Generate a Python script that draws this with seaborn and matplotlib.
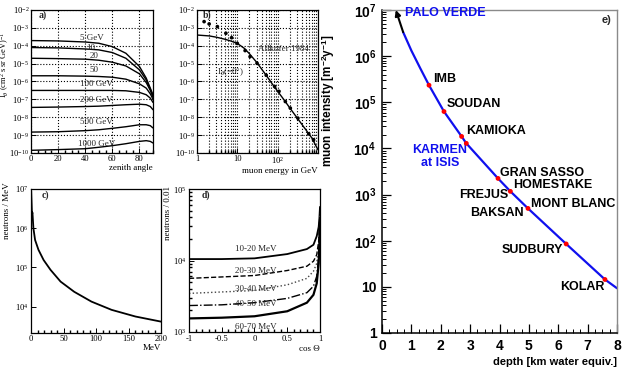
import numpy as np
import matplotlib
matplotlib.use("Agg")
import matplotlib.pyplot as plt
import seaborn as sns
from matplotlib.ticker import FixedLocator, NullFormatter, LogLocator, MultipleLocator

# ---------------- data ----------------
# panel a: zenith angle distributions (log10 of intensity)
zen_angle = [0, 20, 40, 50, 60, 70, 80, 85, 88, 90]
zen_energies = ["5", "10", "20", "50", "100", "200", "500", "1000"]
zen_log_5 = [-3.71, -3.73, -3.79, -3.86, -4.05, -4.42, -5.16, -5.81, -6.37, -6.74]
zen_log_10 = [-4.10, -4.12, -4.18, -4.23, -4.38, -4.70, -5.35, -5.91, -6.43, -6.84]
zen_log_20 = [-4.70, -4.72, -4.75, -4.81, -4.92, -5.13, -5.57, -6.06, -6.50, -6.87]
zen_log_50 = [-5.68, -5.68, -5.70, -5.72, -5.76, -5.87, -6.13, -6.37, -6.69, -6.99]
zen_log_100 = [-6.50, -6.50, -6.50, -6.50, -6.50, -6.52, -6.61, -6.74, -6.93, -7.17]
zen_log_200 = [-7.45, -7.43, -7.40, -7.38, -7.34, -7.30, -7.27, -7.30, -7.40, -7.58]
zen_log_500 = [-8.83, -8.81, -8.75, -8.70, -8.62, -8.53, -8.42, -8.42, -8.47, -8.60]
zen_log_1000 = [-9.85, -9.81, -9.76, -9.68, -9.59, -9.48, -9.35, -9.31, -9.35, -9.44]
zen_labels = ["5 GeV", "10", "20", "50", "100 GeV", "200 GeV", "500 GeV", "1000 GeV"]
zen_label_x = [36, 40.5, 43, 43, 36, 36, 36, 34.5]
zen_label_log = [-3.55, -4.12, -4.55, -5.33, -6.13, -7.02, -8.27, -9.48]

# panel b: vertical muon spectrum
spec_E = [1, 2, 3, 5, 7, 10, 15, 20, 30, 50, 70, 100, 150, 200, 300, 500, 700, 1000]
spec_log = [-3.40, -3.45, -3.52, -3.64, -3.74, -3.87, -4.15, -4.45, -4.92, -5.60,
            -6.07, -6.55, -7.08, -7.48, -8.02, -8.70, -9.15, -9.82]
allk_E = [1.5, 2.0, 3.2, 5.2, 7.2, 10, 15.6, 20.7, 30.8, 52, 84, 108, 155, 206, 317, 590, 776]
allk_log = [-2.65, -2.78, -2.93, -3.30, -3.55, -3.87, -4.27, -4.61, -4.98, -5.65,
            -6.28, -6.55, -7.12, -7.49, -8.05, -8.93, -9.26]

# panel c: neutron energy spectrum
neu_E = [0.3, 1.0, 1.5, 2.2, 2.6, 3.7, 6.3, 11.5, 19.4, 30, 45.5, 66.5, 93, 124, 160.7, 200]
neu_log = [6.95, 6.60, 6.35, 6.40, 6.30, 6.00, 5.70, 5.45, 5.19, 4.94, 4.64, 4.38, 4.13,
           3.92, 3.75, 3.62]

# panel d: angular distributions of neutrons
cos_theta = [-1, -0.5, 0, 0.5, 0.8, 0.9, 0.95, 0.98, 0.99, 1.0]
ang_labels = ["10-20 MeV", "20-30 MeV", "30-40 MeV", "40-50 MeV", "60-70 MeV"]
ang_log_10_20 = [4.02, 4.02, 4.03, 4.09, 4.16, 4.22, 4.34, 4.47, 4.58, 4.75]
ang_log_20_30 = [3.75, 3.77, 3.79, 3.86, 3.92, 3.99, 4.08, 4.27, 4.45, 4.71]
ang_log_30_40 = [3.54, 3.56, 3.58, 3.66, 3.75, 3.85, 3.96, 4.20, 4.40, 4.66]
ang_log_40_50 = [3.37, 3.38, 3.41, 3.47, 3.55, 3.64, 3.78, 4.06, 4.30, 4.61]
ang_log_60_70 = [3.19, 3.20, 3.22, 3.29, 3.41, 3.52, 3.68, 3.96, 4.22, 4.57]
ang_label_log = [4.16, 3.85, 3.60, 3.39, 3.07]

# panel e: depth-intensity relation
depth_curve = [0.72, 1.0, 1.3, 1.60, 2.11, 2.71, 2.87, 3.95, 4.37, 4.97, 6.27, 7.59, 8.0]
depth_curve_log = [6.52, 6.12, 5.74, 5.37, 4.80, 4.26, 4.11, 3.35, 3.07, 2.70, 1.93, 1.16, 0.97]
lab_depth = [1.60, 2.11, 2.71, 2.87, 3.95, 4.37, 4.97, 6.27, 7.59]
lab_log = [5.37, 4.80, 4.26, 4.11, 3.35, 3.07, 2.70, 1.93, 1.16]
lab_names = ["IMB", "SOUDAN", "KAMIOKA", "GRAN SASSO", "HOMESTAKE", "FREJUS",
             "MONT BLANC", "BAKSAN", "SUDBURY", "KOLAR"]
lab_x = [1.73, 2.2, 2.88, 4.03, 4.47, 4.30, 5.08, 4.81, 6.17, 7.56]
lab_y = [5.50, 4.96, 4.37, 3.46, 3.20, 3.00, 2.80, 2.61, 1.80, 1.00]
lab_ha = ["left", "left", "left", "left", "left", "right", "left", "right", "right", "right"]

# ---------------- style ----------------
sns.set_theme(style="ticks")
plt.rcParams.update({
    "font.family": ["Liberation Serif", "DejaVu Serif"],
    "mathtext.fontset": "custom",
    "mathtext.rm": "Liberation Serif",
    "mathtext.it": "Liberation Serif:italic",
    "mathtext.bf": "Liberation Sans:bold",
    "axes.linewidth": 0.9,
    "xtick.direction": "in",
    "ytick.direction": "in",
    "xtick.major.size": 3.5,
    "ytick.major.size": 3.5,
    "xtick.minor.size": 2,
    "ytick.minor.size": 2,
    "xtick.major.width": 0.7,
    "ytick.major.width": 0.7,
    "xtick.color": "black",
    "ytick.color": "black",
    "axes.edgecolor": "black",
    "axes.facecolor": "white",
})

W, H = 623, 369
fig = plt.figure(figsize=(W / 100, H / 100), dpi=100)


def axrect(l, t, r, b):
    return fig.add_axes([l / W, 1 - b / H, (r - l) / W, (b - t) / H])


SER = 6.5
lfont = dict(family="Liberation Serif", size=SER, color="black")
tfont = dict(family="Liberation Serif", size=6.2, color="black")


def decade_labels(ax, exps):
    ax.yaxis.set_major_locator(FixedLocator([10.0 ** e for e in exps]))
    ax.set_yticklabels([r"$10^{%d}$" % e for e in exps], fontdict=tfont)
    ax.yaxis.set_minor_formatter(NullFormatter())


# ---------------- panel a ----------------
axa = axrect(31, 10, 153, 153)
axa.set_yscale("log")
zen_all = [zen_log_5, zen_log_10, zen_log_20, zen_log_50, zen_log_100, zen_log_200,
           zen_log_500, zen_log_1000]
for vals in zen_all:
    sns.lineplot(x=zen_angle, y=10.0 ** np.array(vals), ax=axa, color="black",
                 lw=1.0, estimator=None, sort=False)
axa.set_xlim(0, 90)
axa.set_ylim(1e-10, 1e-2)
axa.set_xticks([0, 20, 40, 60, 80])
axa.set_xticklabels(["0", "20", "40", "60", "80"], fontdict=tfont)
axa.xaxis.set_minor_locator(MultipleLocator(5))
decade_labels(axa, list(range(-2, -11, -1)))
axa.yaxis.set_minor_locator(FixedLocator([]))
axa.grid(True, which="major", ls=":", color="black", lw=0.8)
for lab, lx, ly in zip(zen_labels, zen_label_x, zen_label_log):
    axa.text(lx, 10.0 ** ly, lab, fontsize=SER, ha="left", va="center",
             family="Liberation Serif")
axa.text(0.06, 0.965, "a)", transform=axa.transAxes, fontsize=7, va="center",
         family="Liberation Serif", weight="bold")
axa.set_xlabel("zenith angle", fontdict=lfont, loc="right", labelpad=1)
axa.set_ylabel(r"I$_\theta$ (cm$^2$ s sr GeV)$^{-1}$",
               fontdict=dict(family="Liberation Serif", size=6.0, color="black"))
axa.yaxis.set_label_coords(-0.16, 0.62)
axa.tick_params(pad=1.2)

# ---------------- panel b ----------------
axb = axrect(197, 10, 318, 153)
axb.set_xscale("log")
axb.set_yscale("log")
sns.lineplot(x=spec_E, y=10.0 ** np.array(spec_log), ax=axb, color="black", lw=1.0,
             estimator=None, sort=False)
sns.scatterplot(x=allk_E, y=10.0 ** np.array(allk_log), ax=axb, color="black", s=7,
                edgecolor="none", zorder=5)
axb.set_xlim(1, 1000)
axb.set_ylim(1e-10, 1e-2)
axb.xaxis.set_major_locator(FixedLocator([1, 10, 100, 1000]))
axb.set_xticklabels(["1", "10", r"$10^{2}$", ""], fontdict=tfont)
axb.xaxis.set_minor_locator(LogLocator(base=10, subs=np.arange(2, 10), numticks=20))
axb.xaxis.set_minor_formatter(NullFormatter())
decade_labels(axb, list(range(-2, -11, -1)))
axb.yaxis.set_minor_locator(FixedLocator([]))
axb.xaxis.grid(True, which="both", ls=":", color="black", lw=0.8)
axb.yaxis.grid(True, which="major", ls=":", color="black", lw=0.8)
axb.text(32, 10 ** -4.18, "Allkofer 1984", fontsize=SER, ha="left", va="center",
         family="Liberation Serif")
axb.text(3.1, 10 ** -5.46, r"I$_\theta$(=0°)", fontsize=SER, ha="left", va="center",
         family="Liberation Serif")
axb.text(0.05, 0.965, "b)", transform=axb.transAxes, fontsize=7, va="center",
         family="Liberation Serif", weight="bold")
axb.set_xlabel("muon energy in GeV", fontdict=lfont, loc="right", labelpad=1)
axb.tick_params(pad=1.5)

# ---------------- panel c ----------------
axc = axrect(31, 189, 161, 333)
axc.set_yscale("log")
sns.lineplot(x=neu_E, y=10.0 ** np.array(neu_log), ax=axc, color="black", lw=1.3,
             estimator=None, sort=False)
axc.set_xlim(0, 200)
axc.set_ylim(10 ** 3.33, 1e7)
axc.set_xticks([0, 50, 100, 150, 200])
axc.set_xticklabels(["0", "50", "100", "150", "200"], fontdict=tfont)
axc.xaxis.set_minor_locator(MultipleLocator(10))
decade_labels(axc, [4, 5, 6, 7])
axc.yaxis.set_minor_locator(FixedLocator([]))
axc.text(0.085, 0.96, "c)", transform=axc.transAxes, fontsize=7, va="center",
         family="Liberation Serif", weight="bold")
axc.set_xlabel("MeV", fontdict=lfont, loc="right", labelpad=1)
axc.set_ylabel("neutrons / MeV", fontdict=lfont)
axc.yaxis.set_label_coords(-0.15, 0.85)
axc.tick_params(pad=1.5)

# ---------------- panel d ----------------
axd = axrect(189, 189, 320, 332)
axd.set_yscale("log")
ang_all = [ang_log_10_20, ang_log_20_30, ang_log_30_40, ang_log_40_50, ang_log_60_70]
ang_styles = [("-", 1.3, "black"), ("--", 1.0, "black"), (":", 1.0, "#444444"),
              ("-.", 1.0, "black"), ("-", 1.6, "black")]
for vals, (ls, lw, col) in zip(ang_all, ang_styles):
    sns.lineplot(x=cos_theta, y=10.0 ** np.array(vals), ax=axd, color=col, lw=lw,
                 linestyle=ls, estimator=None, sort=False)
for lab, ly in zip(ang_labels, ang_label_log):
    axd.text(-0.30, 10 ** ly, lab, fontsize=SER, ha="left", va="center",
             family="Liberation Serif")
axd.set_xlim(-1, 1)
axd.set_ylim(1e3, 1e5)
axd.set_xticks([-1, -0.5, 0, 0.5, 1])
axd.set_xticklabels(["-1", "-0.5", "0", "0.5", "1"], fontdict=tfont)
axd.xaxis.set_minor_locator(MultipleLocator(0.1))
decade_labels(axd, [3, 4, 5])
axd.yaxis.set_minor_locator(LogLocator(base=10, subs=np.arange(2, 10), numticks=20))
axd.yaxis.set_minor_formatter(NullFormatter())
axd.text(0.1, 0.96, "d)", transform=axd.transAxes, fontsize=7, va="center",
         family="Liberation Serif", weight="bold")
axd.set_xlabel("cos Θ", fontdict=lfont, loc="right", labelpad=1)
axd.set_ylabel("neutrons / 0.01", fontdict=lfont)
axd.yaxis.set_label_coords(-0.13, 0.83)
axd.tick_params(pad=1.5)
axd.tick_params(axis="x", pad=2.5)

# ---------------- panel e ----------------
BLUE = "#1010ee"
bfont = dict(family="Liberation Sans", weight="bold", color="black")
axe = axrect(382, 10, 617, 333)
axe.set_yscale("log")
sns.lineplot(x=depth_curve, y=10.0 ** np.array(depth_curve_log), ax=axe, color=BLUE,
             lw=1.6, estimator=None, sort=False)
sns.scatterplot(x=lab_depth, y=10.0 ** np.array(lab_log), ax=axe, color="red", s=12,
                edgecolor="none", zorder=5)
axe.annotate("", xy=(0.47, 1.0e7), xytext=(depth_curve[0], 10 ** depth_curve_log[0]),
             arrowprops=dict(arrowstyle="-|>", color="black", lw=1.5,
                             mutation_scale=8, shrinkA=0, shrinkB=0))
axe.set_xlim(0, 8)
axe.set_ylim(1, 1e7)
axe.set_xticks(range(0, 9))
axe.set_xticklabels([str(i) for i in range(9)], fontsize=10, **bfont)
axe.xaxis.set_minor_locator(MultipleLocator(0.25))
axe.yaxis.set_major_locator(FixedLocator([10.0 ** e for e in range(0, 8)]))
axe.set_yticklabels(["1", "10"] + [r"$\mathbf{10^{%d}}$" % e for e in range(2, 8)],
                    fontsize=10, **bfont)
axe.yaxis.set_minor_locator(LogLocator(base=10, subs=np.arange(2, 10), numticks=20))
axe.yaxis.set_minor_formatter(NullFormatter())
axe.tick_params(which="major", length=6.5, width=0.9, pad=4)
axe.tick_params(which="minor", length=3.2, width=0.7)
axe.spines["left"].set_linewidth(1.1)
axe.spines["bottom"].set_linewidth(1.1)
for s in ("top", "right"):
    axe.spines[s].set_color("#8a8a8a")
    axe.spines[s].set_linewidth(1.0)
for name, x, y, ha in zip(lab_names, lab_x, lab_y, lab_ha):
    axe.text(x, 10 ** y, name, fontsize=9, ha=ha, va="center", **bfont)
axe.text(0.78, 10 ** 6.93, "PALO VERDE", fontsize=9, ha="left", va="center",
         family="Liberation Sans", weight="bold", color=BLUE)
axe.text(1.97, 10 ** 3.82, "KARMEN\nat ISIS", fontsize=9, ha="center", va="center",
         family="Liberation Sans", weight="bold", color=BLUE, linespacing=1.1)
axe.text(0.957, 0.969, "e)", transform=axe.transAxes, fontsize=8, ha="center",
         va="center", family="Liberation Sans", weight="bold")
axe.set_xlabel("depth [km water equiv.]", fontsize=8, loc="right", **bfont)
axe.xaxis.set_label_coords(1.0, -0.075)
axe.set_ylabel(r"muon intensity [m$^{\mathbf{-2}}$y$^{\mathbf{-1}}$]", fontsize=8.5,
               **bfont)
axe.yaxis.set_label_coords(-0.19, 0.72)

fig.savefig("out.png", dpi=100)
